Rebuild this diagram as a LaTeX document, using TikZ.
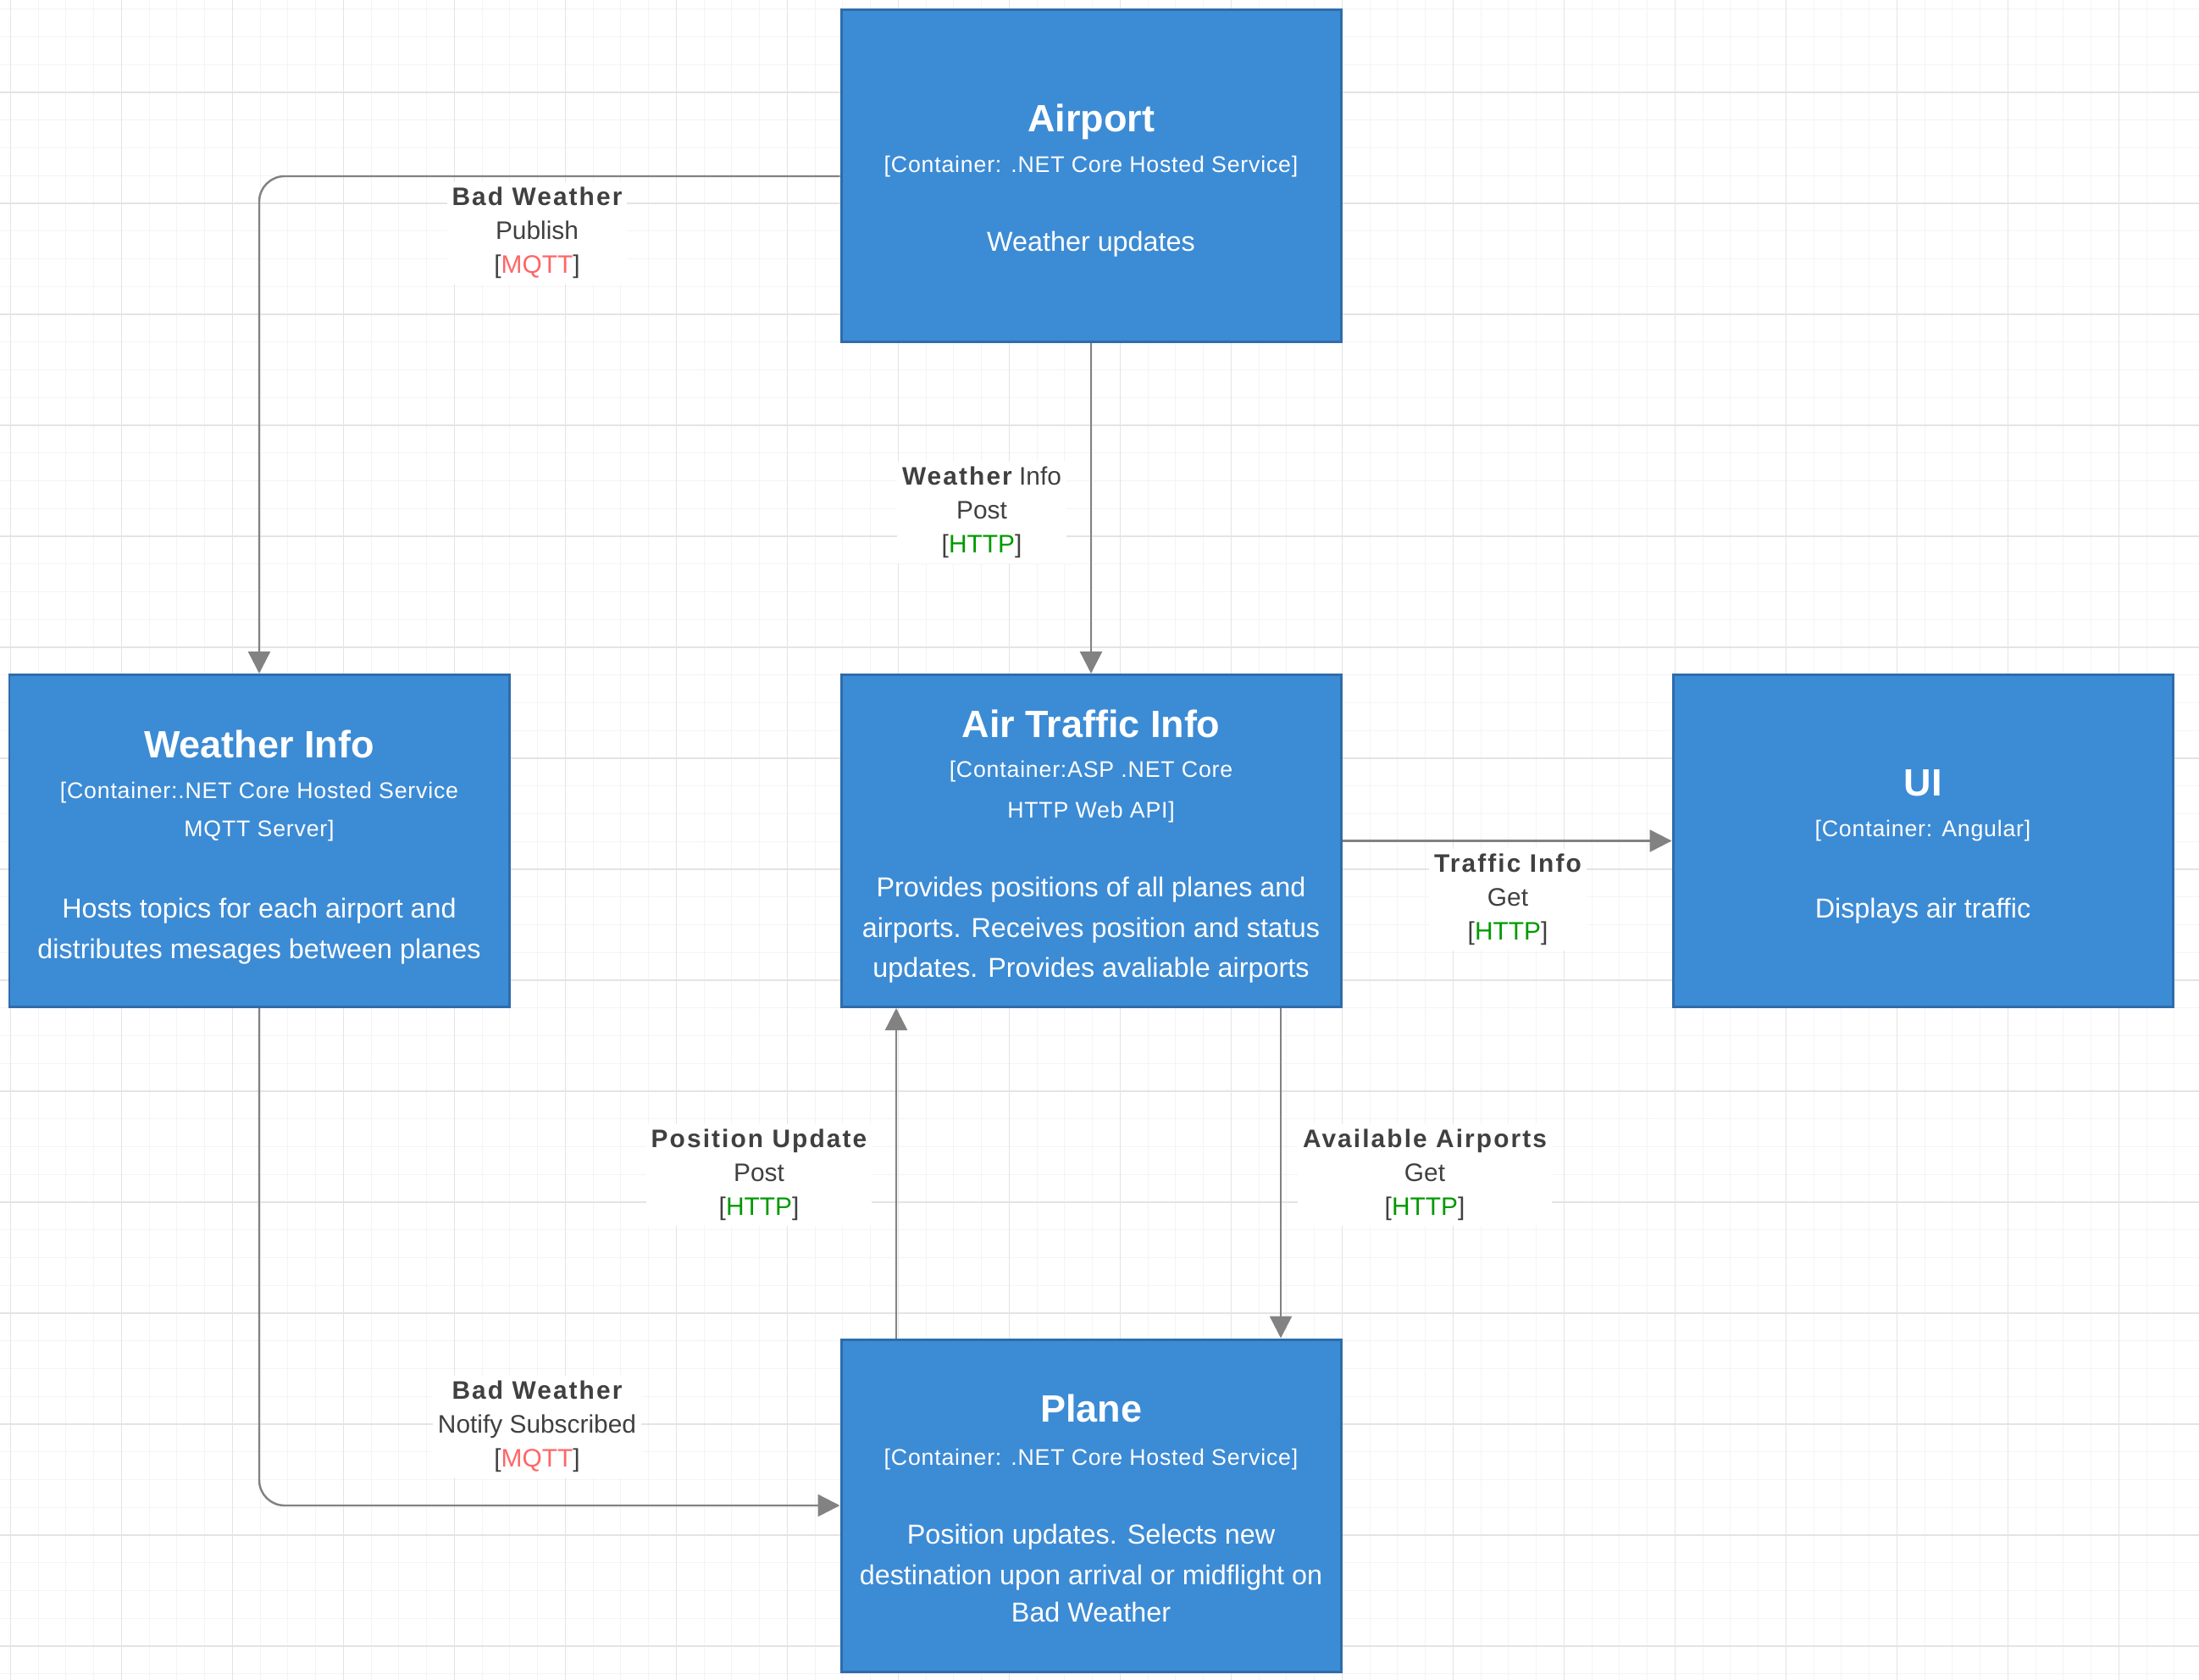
\documentclass[tikz,border=0pt]{standalone}
\usepackage{fontspec}
\setmainfont{Liberation Sans}
\usetikzlibrary{arrows.meta}
\definecolor{diagblue}{HTML}{3C8BD5}
\definecolor{diagedge}{HTML}{2F6CAA}
\definecolor{diagink}{HTML}{404040}
\definecolor{diagwire}{HTML}{828282}
\definecolor{diagred}{HTML}{FF6666}
\definecolor{diaggreen}{HTML}{009900}
\definecolor{diaggrid}{HTML}{E4E4E4}
\definecolor{diagsubgrid}{HTML}{F4F4F4}
\newcommand{\wirehead}[1]{{\bfseries\addfontfeature{LetterSpace=7}#1}}

\begin{document}
\begin{tikzpicture}[x=1cm,y=1cm,
    box/.style={draw=diagedge,fill=diagblue,line width=.85pt,minimum width=5.9cm,minimum height=3.92cm,inner sep=0pt},
    boxtitle/.style={anchor=base,text=white,font=\fontsize{12.8}{15}\selectfont\bfseries},
    boxtech/.style={anchor=base,text=white,font=\fontsize{7.6}{9}\selectfont\addfontfeature{LetterSpace=3}},
    boxtext/.style={anchor=base,text=white,font=\fontsize{9.2}{11}\selectfont},
    wire/.style={draw=diagwire,line width=.7pt,-{Triangle[length=2.6mm,width=2.6mm]}},
    wirelabel/.style={fill=white,text=diagink,align=center,inner sep=.6mm,font=\fontsize{8.5}{11.4}\selectfont}]
        \useasboundingbox (0,0) rectangle (25.96,19.82);
        \fill[white] (0,0) rectangle (25.96,19.82);
        \begin{scope}
          \clip (0,0) rectangle (25.96,19.82);
          \draw[diagsubgrid,line width=.3pt,step=.3275,shift={(.123,.0625)}] (-1,-1) grid (27,21);
          \draw[diaggrid,line width=.3pt,step=1.31,shift={(.123,.39)}] (-2,-2) grid (27,21);
        \end{scope}

        \node[box] (airport) at (12.88,17.74) {};
        \node[boxtitle] (airport-title) at (12.88,18.26) {Airport};
        \node[boxtech] (airport-tech) at (12.88,17.78) {[Container: .NET Core Hosted Service]};
        \node[boxtext] (airport-text) at (12.88,16.85) {Weather updates};

        \node[box] (weather) at (3.06,9.895) {};
        \node[boxtitle] (weather-title) at (3.06,10.88) {Weather Info};
        \node[boxtech] (weather-tech1) at (3.06,10.40) {[Container:.NET Core Hosted Service};
        \node[boxtech] (weather-tech2) at (3.06,9.95) {MQTT Server]};
        \node[boxtext] (weather-text1) at (3.06,8.99) {Hosts topics for each airport and};
        \node[boxtext] (weather-text2) at (3.06,8.51) {distributes mesages between planes};

        \node[box] (traffic) at (12.88,9.895) {};
        \node[boxtitle] (traffic-title) at (12.88,11.12) {Air Traffic Info};
        \node[boxtech] (traffic-tech1) at (12.88,10.65) {[Container:ASP .NET Core};
        \node[boxtech] (traffic-tech2) at (12.88,10.17) {HTTP Web API]};
        \node[boxtext] (traffic-text1) at (12.88,9.24) {Provides positions of all planes and};
        \node[boxtext] (traffic-text2) at (12.88,8.76) {airports. Receives position and status};
        \node[boxtext] (traffic-text3) at (12.88,8.29) {updates. Provides avaliable airports};

        \node[box] (ui) at (22.70,9.895) {};
        \node[boxtitle] (ui-title) at (22.70,10.43) {UI};
        \node[boxtech] (ui-tech) at (22.70,9.95) {[Container: Angular]};
        \node[boxtext] (ui-text) at (22.70,8.99) {Displays air traffic};

        \node[box] (plane) at (12.88,2.05) {};
        \node[boxtitle] (plane-title) at (12.88,3.04) {Plane};
        \node[boxtech] (plane-tech) at (12.88,2.53) {[Container: .NET Core Hosted Service]};
        \node[boxtext] (plane-text1) at (12.88,1.60) {Position updates. Selects new};
        \node[boxtext] (plane-text2) at (12.88,1.12) {destination upon arrival or midflight on};
        \node[boxtext] (plane-text3) at (12.88,0.68) {Bad Weather};

        \draw[wire,rounded corners=3mm] (airport.west) -| (weather.north);
        \draw[wire] (airport.south) -- (traffic.north);
        \draw[wire] (traffic.east) -- (ui.west);
        \draw[wire] ([xshift=-23mm]plane.north) -- ([xshift=-23mm]traffic.south);
        \draw[wire] ([xshift=22.4mm]traffic.south) -- ([xshift=22.4mm]plane.north);
        \draw[wire,rounded corners=3mm] (weather.south) |- (plane.west);

        \node[wirelabel] (publish) at (6.34,17.07) {\wirehead{Bad Weather}\\Publish\\{[}\textcolor{diagred}{MQTT}{]}};
        \node[wirelabel] (post-weather) at (11.59,13.77) {\wirehead{Weather} Info\\Post\\{[}\textcolor{diaggreen}{HTTP}{]}};
        \node[wirelabel] (get-traffic) at (17.80,9.20) {\wirehead{Traffic Info}\\Get\\{[}\textcolor{diaggreen}{HTTP}{]}};
        \node[wirelabel] (post-position) at (8.96,5.95) {\wirehead{Position Update}\\Post\\{[}\textcolor{diaggreen}{HTTP}{]}};
        \node[wirelabel] (get-airports) at (16.82,5.95) {\wirehead{Available Airports}\\Get\\{[}\textcolor{diaggreen}{HTTP}{]}};
        \node[wirelabel] (notify) at (6.34,2.98) {\wirehead{Bad Weather}\\Notify Subscribed\\{[}\textcolor{diagred}{MQTT}{]}};
      \end{tikzpicture}
\end{document}
